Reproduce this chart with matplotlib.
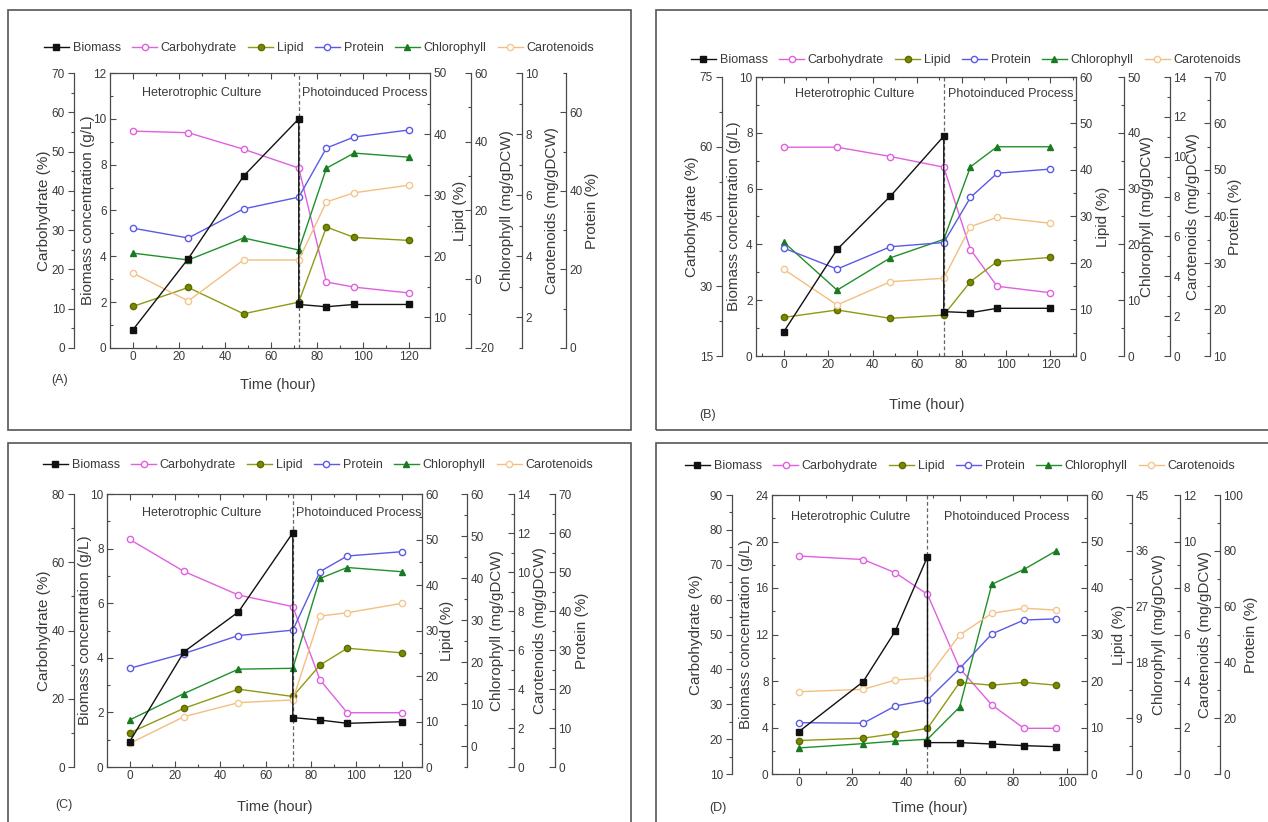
import matplotlib
matplotlib.use("Agg")
import matplotlib.pyplot as plt
from matplotlib.ticker import MultipleLocator, AutoMinorLocator
from matplotlib.patches import Rectangle
from matplotlib.lines import Line2D

plt.rcParams['font.family'] = ['Liberation Sans', 'DejaVu Sans']

# ---------------- data ----------------
# Panel A
time_a = [0, 24, 48, 72, 84, 96, 120]
biomass_time_a = [0, 24, 48, 72, 72, 84, 96, 120]
biomass_a = [0.8, 3.9, 7.5, 10.0, 1.9, 1.8, 1.9, 1.9]
carb_a = [55.2, 54.8, 50.6, 45.8, 16.8, 15.5, 14.0]
lipid_a = [11.8, 14.9, 10.6, 12.5, 24.8, 23.1, 22.6]
protein_a = [30.5, 28.0, 35.4, 38.4, 50.9, 53.7, 55.5]
chl_a = [7.6, 5.6, 12.0, 8.5, 32.3, 36.7, 35.5]
car_a = [3.45, 2.54, 3.88, 3.88, 5.78, 6.08, 6.33]

# Panel B
time_b = [0, 24, 48, 72, 84, 96, 120]
biomass_time_b = [0, 24, 48, 72, 72, 84, 96, 120]
biomass_b = [0.87, 3.82, 5.73, 7.88, 1.59, 1.55, 1.71, 1.71]
carb_b = [59.9, 59.9, 57.9, 55.6, 37.9, 30.0, 28.6]
lipid_b = [8.3, 9.9, 8.1, 8.8, 16.0, 20.3, 21.2]
protein_b = [33.2, 28.7, 33.5, 34.4, 44.1, 49.3, 50.2]
chl_b = [20.4, 11.8, 17.6, 20.9, 33.9, 37.5, 37.5]
car_b = [4.35, 2.56, 3.73, 3.90, 6.49, 6.96, 6.66]

# Panel C
time_c = [0, 24, 48, 72, 84, 96, 120]
biomass_time_c = [0, 24, 48, 72, 72, 84, 96, 120]
biomass_c = [0.93, 4.22, 5.68, 8.58, 1.81, 1.72, 1.60, 1.66]
carb_c = [66.7, 57.3, 50.4, 47.0, 25.5, 15.9, 15.9]
lipid_c = [7.5, 12.9, 17.1, 15.5, 22.4, 26.1, 25.1]
protein_c = [25.3, 29.1, 33.7, 35.1, 50.1, 54.1, 55.2]
chl_c = [6.2, 12.5, 18.3, 18.5, 39.9, 42.5, 41.5]
car_c = [1.21, 2.58, 3.30, 3.44, 7.74, 7.91, 8.39]

# Panel D
time_d = [0, 24, 36, 48, 60, 72, 84, 96]
biomass_time_d = [0, 24, 36, 48, 48, 60, 72, 84, 96]
biomass_d = [3.64, 7.94, 12.3, 18.7, 2.70, 2.70, 2.58, 2.44, 2.35]
carb_d = [72.5, 71.5, 67.7, 61.5, 40.3, 29.8, 23.1, 23.1]
lipid_d = [7.2, 7.7, 8.7, 9.8, 19.7, 19.1, 19.7, 19.1]
protein_d = [18.4, 18.2, 24.4, 26.5, 37.8, 50.2, 55.2, 55.6]
chl_d = [4.2, 4.9, 5.3, 5.6, 10.8, 30.6, 33.0, 36.0]
car_d = [3.54, 3.64, 4.04, 4.14, 5.98, 6.91, 7.13, 7.05]

series_names = ["Biomass", "Carbohydrate", "Lipid", "Protein", "Chlorophyll", "Carotenoids"]

# ---------------- styling ----------------
W, H = 1268, 822
fig = plt.figure(figsize=(W / 100, H / 100), dpi=100)
TXT = '#3a3a3a'
SPINE = '#4a4a4a'
FS = 9          # horizontal annotation / legend text
FS_LAB = 11     # rotated axis titles
FS_TICK = 8.5

styles = {
    "Biomass": dict(color='#111111', marker='s', mfc='#111111', mec='#111111', ms=4.5),
    "Carbohydrate": dict(color='#e060e0', marker='o', mfc='white', mec='#e060e0', ms=4.5),
    "Lipid": dict(color='#8f9a10', marker='o', mfc='#7a8a00', mec='#5e6a00', ms=4.5),
    "Protein": dict(color='#5a5ae6', marker='o', mfc='white', mec='#5a5ae6', ms=4.5),
    "Chlorophyll": dict(color='#20902a', marker='^', mfc='#1a7a22', mec='#1a7a22', ms=4.5),
    "Carotenoids": dict(color='#f3bf80', marker='o', mfc='white', mec='#f3c890', ms=4.5),
}


def fx(x):
    return x / W


def fy(y):
    return 1 - y / H


def style_axis(a, direction='in'):
    a.tick_params(axis='both', which='both', direction=direction, colors=SPINE,
                  labelcolor=TXT, labelsize=FS_TICK, width=0.8, pad=2.5)
    a.tick_params(which='major', length=4)
    a.tick_params(which='minor', length=2)
    for s in a.spines.values():
        s.set_color(SPINE)
        s.set_linewidth(0.9)


def offset_axis(host, side, frac, lim, step, label, label_x, yc, direction='in'):
    t = host.twinx()
    for s in t.spines.values():
        s.set_visible(False)
    t.spines[side].set_visible(True)
    t.spines[side].set_position(('axes', frac))
    t.yaxis.set_ticks_position(side)
    t.set_ylim(*lim)
    t.yaxis.set_major_locator(MultipleLocator(step))
    t.yaxis.set_minor_locator(AutoMinorLocator(2))
    style_axis(t, direction)
    fig.text(fx(label_x), fy(yc), label, rotation=90, ha='center', va='center',
             fontsize=FS_LAB, color=TXT)
    return t


def draw_panel(p):
    l, r, t, b = p['box']
    w = r - l
    ax = fig.add_axes([fx(l), fy(b), w / W, (b - t) / H])
    ax.set_xlim(*p['xlim'])
    ax.set_ylim(*p['biomass_lim'])
    ax.xaxis.set_major_locator(MultipleLocator(p['xstep']))
    ax.xaxis.set_minor_locator(AutoMinorLocator(2))
    ax.yaxis.set_major_locator(MultipleLocator(p['biomass_step']))
    ax.yaxis.set_minor_locator(AutoMinorLocator(2))
    ax.tick_params(top=True, which='both')
    ax.spines['right'].set_visible(False)
    style_axis(ax)
    yc = (t + b) / 2
    lx = p['label_x']
    fig.text(fx(lx[1]), fy(yc), "Biomass concentration (g/L)", rotation=90,
             ha='center', va='center', fontsize=FS_LAB, color=TXT)

    ax_carb = offset_axis(ax, 'left', (p['carb_x'] - l) / w, p['carb_lim'], p['carb_step'],
                          "Carbohydrate (%)", lx[0], yc, direction='out')
    ax_lip = offset_axis(ax, 'right', 1.0, p['lipid_lim'], p['lipid_step'],
                         "Lipid (%)", lx[2], yc)
    ax_chl = offset_axis(ax, 'right', (p['chl_x'] - l) / w, p['chl_lim'], p['chl_step'],
                         "Chlorophyll (mg/gDCW)", lx[3], yc)
    ax_car = offset_axis(ax, 'right', (p['car_x'] - l) / w, p['car_lim'], p['car_step'],
                         "Carotenoids (mg/gDCW)", lx[4], yc)
    ax_pro = offset_axis(ax, 'right', (p['pro_x'] - l) / w, p['pro_lim'], p['pro_step'],
                         "Protein (%)", lx[5], yc)

    ax.axvline(p['switch'], color='#666666', lw=0.9, ls=(0, (3, 2)), zorder=1)

    kw = dict(lw=1.0)
    ax_car.plot(p['time'], p['car'], **styles["Carotenoids"], **kw)
    ax_lip.plot(p['time'], p['lipid'], **styles["Lipid"], **kw)
    ax_chl.plot(p['time'], p['chl'], **styles["Chlorophyll"], **kw)
    ax_pro.plot(p['time'], p['protein'], **styles["Protein"], **kw)
    ax_carb.plot(p['time'], p['carb'], **styles["Carbohydrate"], **kw)
    ax_bio = ax.twinx()
    ax_bio.set_ylim(*p['biomass_lim'])
    ax_bio.set_axis_off()
    ax_bio.plot(p['biomass_time'], p['biomass'], **styles["Biomass"], **kw)

    phase_names = ["Heterotrophic Culture" if p['tag'] != '(D)' else "Heterotrophic Culutre",
                   "Photoinduced Process"]
    for txt, (x0, x1) in zip(phase_names, p['text_x']):
        fig.text(fx((x0 + x1) / 2), fy(p['text_y']), txt, ha='center', va='center',
                 fontsize=FS, color=TXT)

    fig.text(fx(p['time_label'][0]), fy(p['time_label'][1]), "Time (hour)",
             ha='center', va='center', fontsize=10.5, color=TXT)
    fig.text(fx(p['tag_xy'][0]), fy(p['tag_xy'][1]), p['tag'],
             ha='center', va='center', fontsize=FS, color=TXT)

    handles = [Line2D([], [], lw=1.0, **styles[n]) for n in series_names]
    fig.legend(handles, series_names, loc='center',
               bbox_to_anchor=(fx(p['legend'][0]), fy(p['legend'][1])),
               ncol=6, frameon=False, fontsize=FS, handlelength=2.0,
               handletextpad=0.3, columnspacing=0.9, labelcolor=TXT)

    bx0, by0, bx1, by1 = p['border']
    fig.add_artist(Rectangle((fx(bx0), fy(by1)), (bx1 - bx0) / W, (by1 - by0) / H,
                             transform=fig.transFigure, fill=False, ec='#555555', lw=1.2))


panels = [
    dict(tag='(A)', box=(110, 430, 73, 348), xlim=(-10, 129), xstep=20, switch=72,
         time=time_a, biomass_time=biomass_time_a, biomass=biomass_a, carb=carb_a,
         lipid=lipid_a, protein=protein_a, chl=chl_a, car=car_a,
         biomass_lim=(0, 12), biomass_step=2, carb_x=74, carb_lim=(0, 70), carb_step=10,
         lipid_lim=(5, 50), lipid_step=10, chl_x=471, chl_lim=(-20, 60), chl_step=20,
         car_x=522, car_lim=(1, 10), car_step=2, pro_x=566, pro_lim=(0, 70), pro_step=20,
         label_x=(44, 88, 460, 507, 552, 592), text_x=((141, 262), (301, 428)), text_y=93,
         time_label=(278, 385), tag_xy=(60, 380), legend=(319, 48), border=(8, 10, 631, 430)),
    dict(tag='(B)', box=(756, 1076, 77, 356), xlim=(-12.5, 131.5), xstep=20, switch=72,
         time=time_b, biomass_time=biomass_time_b, biomass=biomass_b, carb=carb_b,
         lipid=lipid_b, protein=protein_b, chl=chl_b, car=car_b,
         biomass_lim=(0, 10), biomass_step=2, carb_x=722, carb_lim=(15, 75), carb_step=15,
         lipid_lim=(0, 60), lipid_step=10, chl_x=1124, chl_lim=(0, 50), chl_step=10,
         car_x=1170, car_lim=(0, 14), car_step=2, pro_x=1210, pro_lim=(10, 70), pro_step=10,
         label_x=(692, 734, 1103, 1147, 1193, 1235), text_x=((795, 915), (945, 1076)), text_y=94,
         time_label=(927, 405), tag_xy=(708, 415), legend=(966, 60), border=(656, 10, 1280, 430)),
    dict(tag='(C)', box=(107, 422, 494, 767), xlim=(-10, 129), xstep=20, switch=72,
         time=time_c, biomass_time=biomass_time_c, biomass=biomass_c, carb=carb_c,
         lipid=lipid_c, protein=protein_c, chl=chl_c, car=car_c,
         biomass_lim=(0, 10), biomass_step=2, carb_x=74, carb_lim=(0, 80), carb_step=20,
         lipid_lim=(0, 60), lipid_step=10, chl_x=467, chl_lim=(-5, 60), chl_step=10,
         car_x=514, car_lim=(0, 14), car_step=2, pro_x=555, pro_lim=(0, 70), pro_step=10,
         label_x=(44, 85, 447, 497, 540, 582), text_x=((141, 262), (295, 422)), text_y=513,
         time_label=(275, 807), tag_xy=(64, 805), legend=(318, 465), border=(8, 443, 631, 830)),
    dict(tag='(D)', box=(772, 1087, 495, 774), xlim=(-10, 107.5), xstep=20, switch=48,
         time=time_d, biomass_time=biomass_time_d, biomass=biomass_d, carb=carb_d,
         lipid=lipid_d, protein=protein_d, chl=chl_d, car=car_d,
         biomass_lim=(0, 24), biomass_step=4, carb_x=732, carb_lim=(10, 90), carb_step=10,
         lipid_lim=(0, 60), lipid_step=10, chl_x=1132, chl_lim=(0, 45), chl_step=9,
         car_x=1180, car_lim=(0, 12), car_step=2, pro_x=1220, pro_lim=(0, 100), pro_step=20,
         label_x=(696, 746, 1119, 1159, 1205, 1251), text_x=((791, 910), (944, 1070)), text_y=517,
         time_label=(930, 808), tag_xy=(718, 808), legend=(960, 466), border=(656, 443, 1280, 830)),
]

for p in panels:
    draw_panel(p)

fig.savefig("out.png", dpi=100, facecolor='white')
